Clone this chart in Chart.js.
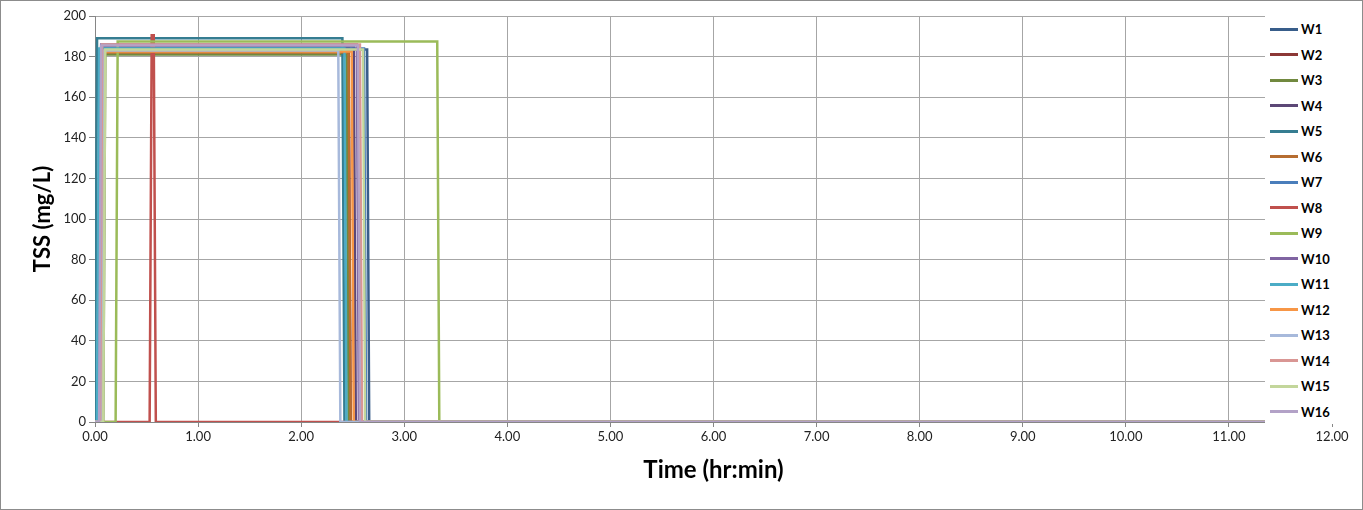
<!DOCTYPE html>
<html>
<head>
<meta charset="utf-8">
<script src="https://cdn.jsdelivr.net/npm/chart.js@4"></script>
<style>
  html, body { margin: 0; padding: 0; background: #fff; }
  #frame { position: relative; width: 1361px; height: 508px; border: 1px solid #8c8c8c; background: #fff; }
  #chart { position: absolute; left: 0; top: 0; }
  #legend {
    position: absolute; left: 1264px; top: 8px; width: 90px; height: 415px;
    background: #fff; font-family: Lato, 'Open Sans', sans-serif; font-weight: bold; font-size: 13px; color: #000;
  }
  .item { position: absolute; left: 5px; height: 16px; display: flex; align-items: center; }
  .swatch { width: 28px; height: 3px; margin-right: 3px; }
</style>
</head>
<body>
<div id="frame">
  <canvas id="chart" width="1361" height="508"></canvas>
  <div id="legend"></div>
</div>
<script>
'use strict';

// x tick labels (hours) and y range
const X_MIN = 0;
const X_MAX = 12;
const Y_MIN = 0;
const Y_MAX = 200;

const seriesNames = ['W1', 'W2', 'W3', 'W4', 'W5', 'W6', 'W7', 'W8',
  'W9', 'W10', 'W11', 'W12', 'W13', 'W14', 'W15', 'W16'];

const seriesColors = ['#385d8a', '#8c3836', '#71893f', '#5c4776', '#357d91', '#b66d31',
  '#4a7ebb', '#c0504d', '#9bbb59', '#8064a2', '#4bacc6', '#f79646',
  '#a7b9db', '#d99694', '#c3d69b', '#b3a2c7'];

// time (hr) / TSS (mg/L) pairs
const w1Time = [0, 0.05, 0.07, 2.64, 2.66, 11.35];
const w1Tss = [0, 0, 183.5, 183.5, 0, 0];
const w2Time = [0, 0.04, 0.06, 2.46, 2.48, 11.35];
const w2Tss = [0, 0, 184.5, 184.5, 0, 0];
const w3Time = [0, 0.08, 0.10, 2.44, 2.46, 11.35];
const w3Tss = [0, 0, 181, 181, 0, 0];
const w4Time = [0, 0.04, 0.06, 2.51, 2.53, 11.35];
const w4Tss = [0, 0, 185, 185, 0, 0];
const w5Time = [0, 0.02, 2.40, 2.42, 11.35];
const w5Tss = [0, 189, 189, 0, 0];
const w6Time = [0, 0.07, 0.09, 2.46, 2.48, 11.35];
const w6Tss = [0, 0, 182, 182, 0, 0];
const w7Time = [0, 0.05, 0.07, 2.61, 2.63, 11.35];
const w7Tss = [0, 0, 184, 184, 0, 0];
const w8Time = [0, 0.53, 0.55, 0.57, 0.59, 11.35];
const w8Tss = [0, 0, 190.5, 190.5, 0, 0];
const w9Time = [0, 0.20, 0.22, 3.32, 3.34, 11.35];
const w9Tss = [0, 0, 187.5, 187.5, 0, 0];
const w10Time = [0, 0.04, 0.06, 2.54, 2.56, 11.35];
const w10Tss = [0, 0, 186, 186, 0, 0];
const w11Time = [0, 0.02, 0.04, 2.42, 2.44, 11.35];
const w11Tss = [0, 0, 184, 184, 0, 0];
const w12Time = [0, 0.07, 0.09, 2.49, 2.51, 11.35];
const w12Tss = [0, 0, 182.5, 182.5, 0, 0];
const w13Time = [0, 0.06, 0.08, 2.36, 2.38, 11.35];
const w13Tss = [0, 0, 183, 183, 0, 0];
const w14Time = [0, 0.05, 0.07, 2.57, 2.59, 11.35];
const w14Tss = [0, 0, 186, 186, 0, 0];
const w15Time = [0, 0.08, 0.10, 2.60, 2.62, 11.35];
const w15Tss = [0, 0, 183.5, 183.5, 0, 0];
const w16Time = [0, 0.04, 0.06, 2.55, 2.57, 11.35];
const w16Tss = [0, 0, 185.5, 185.5, 0, 0];

const seriesTimes = [w1Time, w2Time, w3Time, w4Time, w5Time, w6Time, w7Time, w8Time,
  w9Time, w10Time, w11Time, w12Time, w13Time, w14Time, w15Time, w16Time];
const seriesTss = [w1Tss, w2Tss, w3Tss, w4Tss, w5Tss, w6Tss, w7Tss, w8Tss,
  w9Tss, w10Tss, w11Tss, w12Tss, w13Tss, w14Tss, w15Tss, w16Tss];

const FONT = "Lato, 'Open Sans', sans-serif";
const GRID = '#a6a6a6';

function toPoints(times, values) {
  return times.map((t, i) => ({ x: t, y: values[i] }));
}

const datasets = seriesNames.map((name, i) => ({
  label: name,
  data: toPoints(seriesTimes[i], seriesTss[i]),
  borderColor: seriesColors[i],
  backgroundColor: seriesColors[i],
  borderWidth: 2.5,
  pointRadius: 0,
  showLine: true,
  fill: false,
  tension: 0,
  // later series sit on top, like the spreadsheet
  order: seriesNames.length - i,
}));

const chart = new Chart(document.getElementById('chart'), {
  type: 'scatter',
  data: { datasets },
  options: {
    responsive: false,
    animation: false,
    layout: { padding: { left: 0, right: 30, top: 15, bottom: 0 } },
    plugins: { legend: { display: false }, tooltip: { enabled: false } },
    scales: {
      x: {
        type: 'linear',
        min: X_MIN,
        max: X_MAX,
        afterFit: (scale) => { scale.height = 87; },
        ticks: {
          stepSize: 1,
          color: '#222',
          font: { family: FONT, size: 13 },
          padding: 2,
          maxRotation: 0,
          callback: (v) => Number(v).toFixed(2),
        },
        grid: { color: GRID, tickLength: 5, tickColor: '#868686' },
        border: { color: '#868686' },
        title: {
          display: true,
          text: 'Time (hr:min)',
          color: '#000',
          font: { family: FONT, size: 24, weight: 'bold' },
          padding: { top: 0, bottom: 24 },
        },
      },
      y: {
        min: Y_MIN,
        max: Y_MAX,
        afterFit: (scale) => { scale.width = 94; },
        ticks: {
          stepSize: 20,
          color: '#222',
          font: { family: FONT, size: 13 },
          padding: 3,
        },
        grid: { color: GRID, tickLength: 6, tickColor: '#868686' },
        border: { color: '#868686' },
        title: {
          display: true,
          text: 'TSS (mg/L)',
          color: '#000',
          font: { family: FONT, size: 22, weight: 'bold' },
          padding: { top: 29, bottom: 0 },
        },
      },
    },
  },
});

// legend sits over the right end of the plot with a white fill
const legendBox = document.getElementById('legend');
chart.data.datasets.forEach((ds, i) => {
  const item = document.createElement('div');
  item.className = 'item';
  item.style.top = `${12 + i * 25.5}px`;
  item.innerHTML = `<span class="swatch" style="background:${ds.borderColor}"></span><span>${ds.label}</span>`;
  legendBox.appendChild(item);
});
</script>
</body>
</html>
